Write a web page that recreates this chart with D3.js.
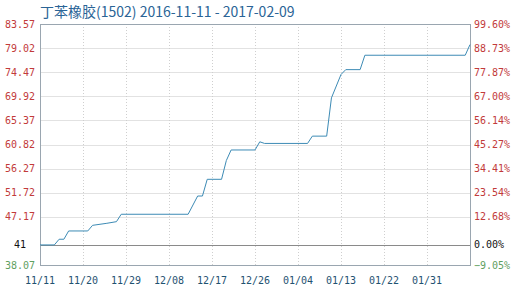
<!DOCTYPE html>
<html>
<head>
<meta charset="utf-8">
<script src="https://cdn.jsdelivr.net/npm/d3@7"></script>
<style>
  body { margin: 0; background: #fff; }
  text { font-family: "DejaVu Sans Mono", "Liberation Mono", monospace; }
</style>
</head>
<body>
<div id="chart"></div>
<script>
// chart data
var title = "丁苯橡胶(1502) 2016-11-11 - 2017-02-09";
var basePrice = 41;
var startDate = "2016-11-11", endDate = "2017-02-09";
var priceDates = ["2016-11-11", "2016-11-14", "2016-11-15", "2016-11-16", "2016-11-17",
  "2016-11-21", "2016-11-22", "2016-11-25", "2016-11-27", "2016-11-28",
  "2016-12-12", "2016-12-14", "2016-12-15", "2016-12-16", "2016-12-19",
  "2016-12-20", "2016-12-21", "2016-12-26", "2016-12-27", "2016-12-28",
  "2017-01-06", "2017-01-07", "2017-01-10", "2017-01-11", "2017-01-13",
  "2017-01-14", "2017-01-17", "2017-01-18", "2017-02-08", "2017-02-09"];
var prices = [41.0, 41.0, 42.05, 42.05, 43.58,
  43.58, 44.62, 45.0, 45.3, 46.67,
  46.67, 50.04, 50.04, 53.13, 53.13,
  56.6, 58.55, 58.55, 60.06, 59.76,
  59.76, 61.11, 61.11, 68.18, 72.5,
  73.4, 73.4, 76.06, 76.06, 78.03];
var leftTicks = [83.57, 79.02, 74.47, 69.92, 65.37, 60.82, 56.27, 51.72, 47.17, 38.07];
var rightTicks = [99.60, 88.73, 77.87, 67.00, 56.14, 45.27, 34.41, 23.54, 12.68, -9.05];
var xTickDates = ["2016-11-11", "2016-11-20", "2016-11-29", "2016-12-08", "2016-12-17",
  "2016-12-26", "2017-01-04", "2017-01-13", "2017-01-22", "2017-01-31"];

var margin = {top: 24, right: 44, bottom: 27, left: 40},
  width = 514 - margin.left - margin.right,
  height = 292 - margin.top - margin.bottom;

var parseDay = d3.timeParse("%Y-%m-%d");
var fmtDay = d3.timeFormat("%m/%d");

var svg = d3.select("#chart")
  .append("svg")
    .attr("width", 514)
    .attr("height", 293);

svg.append("text")
  .attr("x", 40)
  .attr("y", 17)
  .style("font-family", "'Noto Sans CJK SC', 'DejaVu Sans', sans-serif")
  .style("font-size", "14px")
  .style("fill", "#2a6496")
  .text(title);

var g = svg.append("g")
  .attr("transform", "translate(" + margin.left + "," + margin.top + ")");

var x = d3.scaleTime()
  .domain([parseDay(startDate), parseDay(endDate)])
  .range([0, width]);

// the right axis (change against base price) drives the vertical positions
var yPct = d3.scaleLinear()
  .domain([d3.min(rightTicks), d3.max(rightTicks)])
  .range([height, 0]);
var yLeft = d3.scaleLinear()
  .domain([d3.min(leftTicks), d3.max(leftTicks)])
  .range([height, 0]);

// horizontal grid
g.selectAll(".hgrid")
  .data(rightTicks)
  .enter().append("line")
    .attr("class", "hgrid")
    .attr("x1", 0).attr("x2", width)
    .attr("y1", function(d) { return Math.round(yPct(d)) + 0.5; })
    .attr("y2", function(d) { return Math.round(yPct(d)) + 0.5; })
    .style("stroke", "#e2e2e2");

// vertical grid, dotted
g.selectAll(".vgrid")
  .data(xTickDates)
  .enter().append("line")
    .attr("class", "vgrid")
    .attr("x1", function(d) { return Math.round(x(parseDay(d))) + 0.5; })
    .attr("x2", function(d) { return Math.round(x(parseDay(d))) + 0.5; })
    .attr("y1", 0).attr("y2", height)
    .style("stroke", "#cfcfcf")
    .style("stroke-dasharray", "1,2");

// base line (0%)
g.append("line")
  .attr("x1", 0).attr("x2", width)
  .attr("y1", Math.round(yPct(0)) + 0.5)
  .attr("y2", Math.round(yPct(0)) + 0.5)
  .style("stroke", "#8a8a8a");

// frame
g.append("rect")
  .attr("x", 0.5).attr("y", 0.5)
  .attr("width", width).attr("height", height)
  .style("fill", "none")
  .style("stroke", "#9aa6b0");

// price line
var line = d3.line()
  .x(function(d) { return x(d.date); })
  .y(function(d) { return yPct((d.price / basePrice - 1) * 100); });

var series = priceDates.map(function(d, i) {
  return {date: parseDay(d), price: prices[i]};
});

g.append("path")
  .datum(series)
  .attr("d", line)
  .style("fill", "none")
  .style("stroke", "#3d8bb5")
  .style("stroke-width", 1);

// left labels
g.selectAll(".lab-left")
  .data(leftTicks)
  .enter().append("text")
    .attr("class", "lab-left")
    .attr("x", -5)
    .attr("y", function(d) { return yLeft(d); })
    .attr("dy", "0.35em")
    .attr("text-anchor", "end")
    .style("font-size", "10px")
    .style("fill", function(d, i) { return i == leftTicks.length - 1 ? "#5fa05f" : "#c23a3a"; })
    .text(function(d) { return d3.format(".2f")(d); });

g.append("text")
  .attr("x", -26)
  .attr("y", yPct(0))
  .attr("dy", "0.35em")
  .style("font-size", "10px")
  .style("fill", "#111")
  .text(basePrice);

// right labels
g.selectAll(".lab-right")
  .data(rightTicks)
  .enter().append("text")
    .attr("class", "lab-right")
    .attr("x", width + 4)
    .attr("y", function(d) { return yPct(d); })
    .attr("dy", "0.35em")
    .style("font-size", "10px")
    .style("fill", function(d) { return d < 0 ? "#5fa05f" : "#c23a3a"; })
    .text(function(d) { return d3.format(".2f")(d) + "%"; });

g.append("text")
  .attr("x", width + 4)
  .attr("y", yPct(0))
  .attr("dy", "0.35em")
  .style("font-size", "10px")
  .style("fill", "#111")
  .text("0.00%");

// x labels
g.selectAll(".lab-x")
  .data(xTickDates)
  .enter().append("text")
    .attr("class", "lab-x")
    .attr("x", function(d) { return x(parseDay(d)); })
    .attr("y", height + 19)
    .attr("text-anchor", "middle")
    .style("font-size", "10px")
    .style("fill", "#1f5272")
    .text(function(d) { return fmtDay(parseDay(d)); });
</script>
</body>
</html>
